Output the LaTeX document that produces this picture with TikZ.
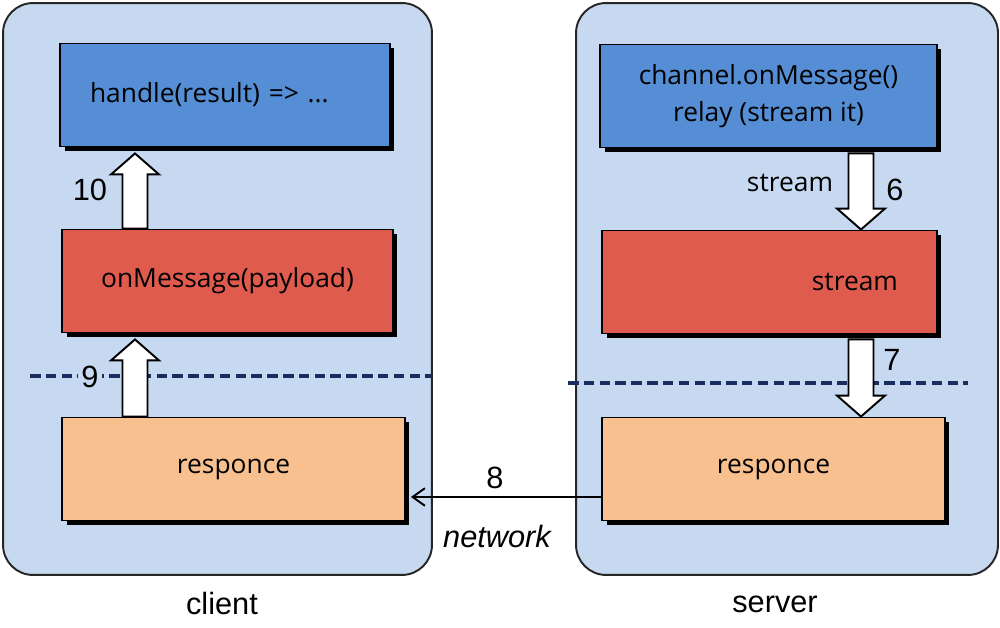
\documentclass[tikz,border=0pt]{standalone}
\usepackage{fontspec}
\setmainfont{Open Sans}
\newfontfamily\arialfont{Liberation Sans}
\usetikzlibrary{calc,shadows,arrows.meta}
\definecolor{panelF}{RGB}{198,217,240}
\definecolor{blueF}{RGB}{85,142,213}
\definecolor{redF}{RGB}{223,91,78}
\definecolor{orangeF}{RGB}{249,192,143}
\definecolor{dashC}{RGB}{25,45,95}

\begin{document}
\begin{tikzpicture}[x=0.02cm,y=-0.02cm,>={Straight Barb[length=7pt,width=10pt]}]
            \tikzstyle{panel}=[draw=black!85,line width=1.1pt,fill=panelF,rounded corners=0.6cm]
            \tikzstyle{box}=[draw=black,line width=1.1pt,font=\fontsize{15}{21}\selectfont,minimum height=2.06cm,
                general shadow={fill=black,shadow xshift=0.09cm,shadow yshift=-0.09cm}]
            \tikzstyle{num}=[font=\arialfont\fontsize{17.5}{20}\selectfont,inner sep=2pt]
            \tikzstyle{sep}=[dashC,line width=1.8pt,dash pattern=on 6pt off 3pt]
            \tikzstyle{uparrow}=[draw=black,line width=1.1pt,fill=white,
                to path={let \p1=(\tikztostart),\p2=(\tikztotarget) in
                (\x1-0.25cm,\y1) -- (\x1-0.25cm,\y2-0.42cm) -- (\x1-0.48cm,\y2-0.42cm) -- (\x1,\y2)
                -- (\x1+0.48cm,\y2-0.42cm) -- (\x1+0.25cm,\y2-0.42cm) -- (\x1+0.25cm,\y1) -- cycle}]
            \tikzstyle{downarrow}=[draw=black,line width=1.1pt,fill=white,
                to path={let \p1=(\tikztostart),\p2=(\tikztotarget) in
                (\x1-0.25cm,\y1) -- (\x1-0.25cm,\y2+0.42cm) -- (\x1-0.48cm,\y2+0.42cm) -- (\x1,\y2)
                -- (\x1+0.48cm,\y2+0.42cm) -- (\x1+0.25cm,\y2+0.42cm) -- (\x1+0.25cm,\y1) -- cycle}]

            \useasboundingbox (0,0) rectangle (1000,628);

            % the two sides
            \node [panel, minimum width=8.58cm, minimum height=11.44cm] (client) at (217.5,289) {};
            \node [panel, minimum width=8.44cm, minimum height=11.44cm] (server) at (787,289) {};
            \node [num] (clientL) at (222,604) {client};
            \node [num] (serverL) at (775,604) {server};

            % client
            \node [box, fill=blueF, minimum width=6.6cm, text width=5.4cm, inner xsep=0.6cm, align=left] (handle) at (225,95) {handle(result) => ...};
            \node [box, fill=redF, minimum width=6.62cm] (onmsg) at (227.5,281) {onMessage(payload)};
            \node [box, fill=orangeF, minimum width=6.86cm] (respC) at (233.5,469) {responce};

            % server
            \node [box, fill=blueF, minimum width=6.74cm, align=center] (relay) at (768.5,96) {channel.onMessage()\\relay (stream it)};
            \node [box, fill=redF, minimum width=6.7cm, text width=5.14cm, inner xsep=0.78cm, align=right] (stream) at (769.5,282) {stream};
            \node [box, fill=orangeF, minimum width=6.86cm] (respS) at (773.5,469) {responce};

            % client / server cut
            \draw [sep] (30,376) -- (431,376);
            \draw [sep] (568,383) -- (968,383);

            % steps
            \draw [downarrow] ($(861,0 |- relay.south)+(0,5)$) to (861,0 |- stream.north);
            \draw [downarrow] ($(861,0 |- stream.south)+(0,5)$) to (861,0 |- respS.north);
            \draw [->, line width=1.1pt] ($(respS.west)+(0,28)$) -- ($(respC.east)+(5,28)$);
            \draw [uparrow] (135,0 |- respC.north) to ($(135,0 |- onmsg.south)+(0,6)$);
            \draw [uparrow] (135,0 |- onmsg.north) to ($(135,0 |- handle.south)+(0,6)$);

            \node [num, font=\fontsize{15}{20}\selectfont] (streamL) at (790,183) {stream};
            \node [num] (n6) at (895,190) {6};
            \node [num] (n7) at (892,360) {7};
            \node [num] (n8) at (495,478) {8};
            \node [num, font=\arialfont\itshape\fontsize{17.5}{20}\selectfont] (netL) at (497,537) {network};
            \node [num, fill=panelF] (n9) at (90,377) {9};
            \node [num] (n10) at (90,190) {10};
\end{tikzpicture}
\end{document}
